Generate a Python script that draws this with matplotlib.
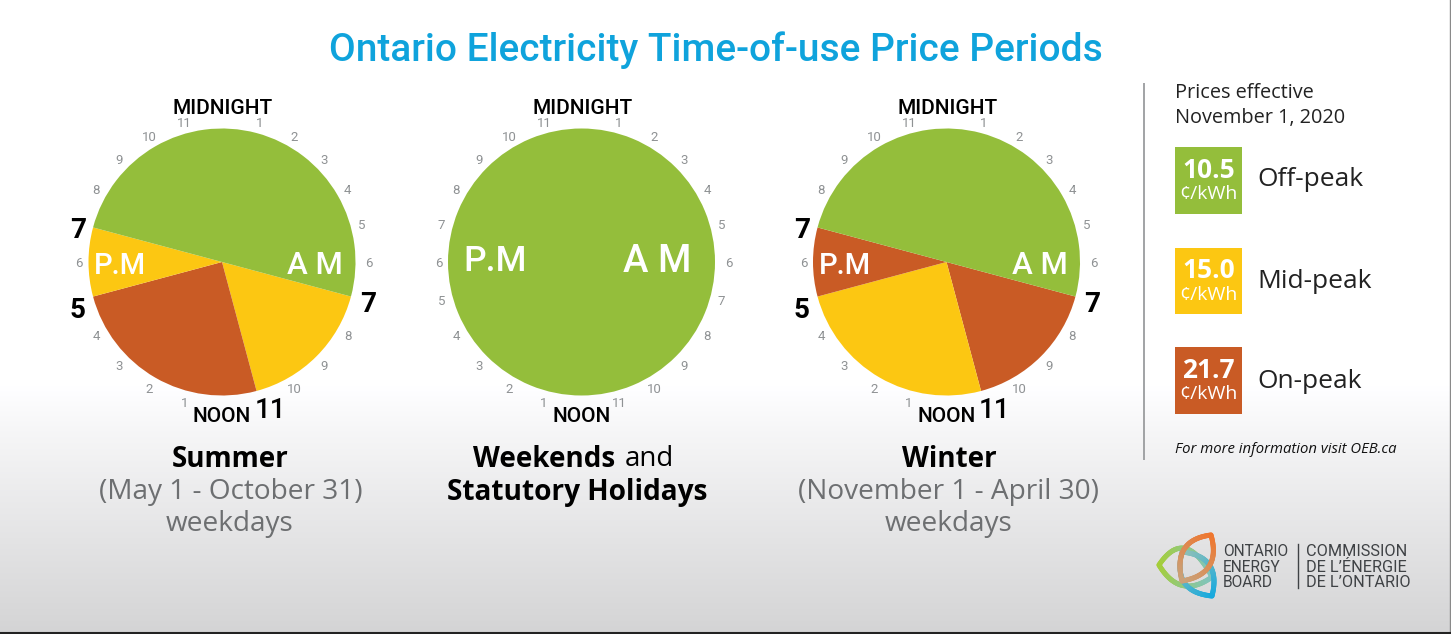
import numpy as np
import matplotlib
matplotlib.use("Agg")
import matplotlib.pyplot as plt
from matplotlib.patches import Rectangle
from matplotlib.collections import LineCollection

W, H = 1451, 634

# ---- data ----
period_names = ["Off-peak", "Mid-peak", "On-peak"]
period_prices = ["10.5", "15.0", "21.7"]
period_colors = ["#94BE3B", "#FCC712", "#C95B25"]
OFF, MID, ON = period_colors

summer_hours = [4, 6, 2, 12]     # from 7 AM, clockwise
summer_colors = [MID, ON, MID, OFF]
weekend_hours = [24]
weekend_colors = [OFF]
winter_hours = [4, 6, 2, 12]
winter_colors = [ON, MID, ON, OFF]

clock_hours = [1, 2, 3, 4, 5, 6, 7, 8, 9, 10, 11]

# ---- canvas ----
fig = plt.figure(figsize=(W / 100, H / 100), dpi=100)
ax = fig.add_axes([0, 0, 1, 1])
Y = lambda y: H - y

TEXT_FONT = "Open Sans"


def T(x, y, s, size, color="black", font=TEXT_FONT, weight="normal", style="normal", ha="center", rot=0):
    ax.text(x, Y(y), s, fontsize=size, color=color, family=font, fontweight=weight,
            fontstyle=style, ha=ha, va="center_baseline", rotation=rot, zorder=5)


# ---- pies ----
R = 133.5
CY = 262
pies = [
    (222, summer_hours, summer_colors),
    (581.5, weekend_hours, weekend_colors),
    (946.5, winter_hours, winter_colors),
]
for cx, hours, colors in pies:
    ax.pie(hours, colors=colors, center=(cx, Y(CY)), radius=R, startangle=90 - 105,
           counterclock=False, frame=False, wedgeprops=dict(linewidth=0))
    for side in (0, 12):
        for h in clock_hours:
            a = np.radians((h + side) * 15)
            rr = 145
            ht = h + side
            if cx != 581.5 and ht in (7, 11, 17, 19):
                continue
            T(cx + rr * np.sin(a) + (2 if h == 6 else 0), CY - rr * np.cos(a), str(h), 9.5, color="#8F9294", font="Roboto")
    T(cx + 1, 107, "MIDNIGHT", 15, font="Roboto", weight="medium")
    T(cx, 414, "NOON", 15, font="Roboto", weight="medium")

for cx in (222, 946.5):
    T(cx + 146, 302, "7", 20, font="Roboto", weight="bold")
    T(cx + 48, 408, "11", 20, font="Roboto", weight="medium")
    T(cx - 145, 307, "5", 20, font="Roboto", weight="bold")
    T(cx - 144, 228, "7", 20, font="Roboto", weight="bold")
    T(cx - 102, 263, "P.M", 21, color="white", font="Roboto", weight="medium")
    T(cx + 93, 263, "A M", 22.5, color="white", font="Roboto", weight="medium")
T(495, 258, "P.M", 25.5, color="white", font="Roboto", weight="medium")
T(657, 258, "A M", 27.5, color="white", font="Roboto", weight="medium")

# ---- title & captions ----
T(715.5, 46, "Ontario Electricity Time-of-use Price Periods", 28, color="#0FA3DC", font="Roboto", weight="medium")

GREY = "#6D6F71"
T(230, 456, "Summer", 20, weight="bold")
T(230.5, 489, "(May 1 - October 31)", 20.2, color=GREY)
T(230, 521, "weekdays", 20.2, color=GREY)
T(473, 456, "Weekends", 20, weight="bold", ha="left")
T(625, 456, "and", 20, ha="left")
T(577.5, 489, "Statutory Holidays", 20.2, weight="bold")
T(949, 456, "Winter", 20, weight="bold")
T(949, 489, "(November 1 - April 30)", 20.2, color=GREY)
T(949, 521, "weekdays", 20.2, color=GREY)

# ---- legend ----
ax.plot([1144, 1144], [Y(83), Y(460)], color="#9A9C9E", lw=1.3, zorder=4, solid_capstyle="butt")
T(1175, 91, "Prices effective", 14.3, ha="left", color="#222222")
T(1175, 115, "November 1, 2020", 14.3, ha="left", color="#222222")
legend_tops = [147, 247.5, 347]
label_offsets = [29, 31, 32]
for top, off, name, price, col in zip(legend_tops, label_offsets, period_names, period_prices, period_colors):
    ax.add_patch(Rectangle((1175, Y(top + 66.5)), 66.5, 66.5, fc=col, ec="none", zorder=4))
    T(1208.5, top + 20, price, 19, color="white", weight="bold")
    T(1208.5, top + 45, "¢/kWh", 14, color="#FFFFFF")
    T(1257, top + off, name, 19, ha="left", color="#222222")
T(1175, 447.5, "For more information visit OEB.ca", 10.7, style="italic", ha="left", color="#111111")


# ---- logo ----
def leaf(p0, p1, c_a, c_b, col0, col1):
    t = np.linspace(0, 1, 60)[:, None]
    p0, p1, c_a, c_b = map(np.array, (p0, p1, c_a, c_b))
    side1 = (1 - t) ** 2 * p0 + 2 * t * (1 - t) * c_a + t ** 2 * p1
    side2 = (1 - t) ** 2 * p0 + 2 * t * (1 - t) * c_b + t ** 2 * p1
    col0, col1 = np.array(matplotlib.colors.to_rgb(col0)), np.array(matplotlib.colors.to_rgb(col1))
    for s in (side1, side2):
        pts = np.column_stack([s[:, 0], H - s[:, 1]])
        segs = np.stack([pts[:-1], pts[1:]], axis=1)
        ax.add_collection(LineCollection(segs, colors=col0 + (col1 - col0) * t[:-1], linewidths=3.6, zorder=4, capstyle="round"))


leaf((1159, 565), (1212, 577), (1185, 526), (1180, 600), "#A6CE39", "#7FC4C0")
leaf((1212, 596), (1182, 552), (1172, 592), (1222, 556), "#16A9DF", "#8FC0B8")
leaf((1211, 535), (1182, 581), (1172, 540), (1222, 574), "#F0762E", "#C9A27A")

LOGO = "#3F4245"
for i, s in enumerate(["ONTARIO", "ENERGY", "BOARD"]):
    T(1223, 550 + i * 15.5, s, 11.2, ha="left", color=LOGO, font="Roboto")
for i, s in enumerate(["COMMISSION", "DE L’ÉNERGIE", "DE L’ONTARIO"]):
    T(1306, 550 + i * 15.5, s, 11.7, ha="left", color=LOGO, font="Roboto")
ax.plot([1297.5, 1297.5], [Y(544), Y(588)], color=LOGO, lw=1, zorder=4)

# ---- background gradient & frame ----
ys = np.arange(H)
shade = np.interp(ys, [0, 385, 430, 634], [1.0, 1.0, 0.965, 0.83])
rgb = np.stack([shade, shade, shade * 1.005], axis=1).clip(0, 1)[:, None, :]
ax.imshow(rgb, extent=[0, W, 0, H], aspect="auto", zorder=0, origin="upper")
ax.plot([W - 1.5, W - 1.5], [0, H], color="#8a8a8a", lw=1, zorder=6)
ax.plot([0, W], [1, 1], color="#222222", lw=1.5, zorder=6)

ax.set_xlim(0, W)
ax.set_ylim(0, H)
ax.set_aspect("auto")
ax.axis("off")
fig.savefig("out.png", dpi=100)
